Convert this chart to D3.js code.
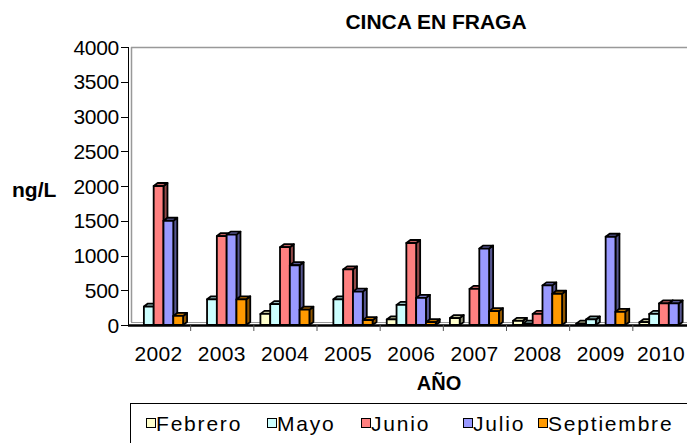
<!DOCTYPE html>
<html><head><meta charset="utf-8">
<script src="https://cdn.jsdelivr.net/npm/d3@7"></script>
<style>body{margin:0;background:#fff}svg{display:block}text{font-family:"Liberation Sans",Arial,sans-serif}</style>
</head><body>
<svg id="c" width="687" height="443"></svg>
<script>
const years = ["2002","2003","2004","2005","2006","2007","2008","2009","2010"];
const seriesNames = ["Febrero","Mayo","Junio","Julio","Septiembre"];
const febrero    = [0, 0, 160, 0, 80, 100, 60, 20, 40];
const mayo       = [265, 370, 300, 370, 290, 0, 20, 80, 160];
const junio      = [2000, 1280, 1120, 800, 1180, 520, 160, 0, 310];
const julio      = [1500, 1300, 860, 480, 390, 1100, 570, 1270, 310];
const septiembre = [130, 370, 220, 70, 40, 200, 450, 190, 0];
const yTicks = [0,500,1000,1500,2000,2500,3000,3500,4000];
const colors = ["#FFFFCC","#CCFFFF","#FF8080","#9999FF","#FF9900"];
const allSeries = [febrero, mayo, junio, julio, septiembre];

const svg = d3.select("#c");
const y = d3.scaleLinear().domain([0,4000]).range([325,47]);
const x0 = d3.scaleBand().domain(years).range([127,695.5]).padding(0);
const groupW = 49;
const x1 = d3.scaleBand().domain(seriesNames).range([0,groupW]).padding(0);
const off = (x0.bandwidth()-groupW)/2;
const dx = 4, dy = 3;

// walls
svg.append("line").attr("x1",131).attr("x2",687).attr("y1",47.5).attr("y2",47.5).attr("stroke","#999").attr("stroke-width",1.5);
svg.append("line").attr("x1",131.5).attr("x2",131.5).attr("y1",47).attr("y2",322).attr("stroke","#999").attr("stroke-width",1.5);
svg.append("line").attr("x1",128.5).attr("x2",128.5).attr("y1",47).attr("y2",326).attr("stroke","#000").attr("stroke-width",1);
svg.append("line").attr("x1",131).attr("x2",687).attr("y1",322.5).attr("y2",322.5).attr("stroke","#999").attr("stroke-width",1);

// y axis ticks & labels
const ya = svg.append("g");
yTicks.forEach(t=>{
  ya.append("line").attr("x1",121).attr("x2",129).attr("y1",Math.round(y(t))+0.5).attr("y2",Math.round(y(t))+0.5).attr("stroke","#000");
  ya.append("text").attr("x",119).attr("y",y(t)).attr("dy","0.36em").attr("text-anchor","end")
    .attr("font-size",21).attr("letter-spacing",-0.3).attr("fill","#000").text(t);
});

// baseline
svg.append("line").attr("x1",128).attr("x2",687).attr("y1",325.5).attr("y2",325.5).attr("stroke","#000").attr("stroke-width",2.5);
// x ticks
years.forEach((yr,i)=>{
  if(i>0) svg.append("line").attr("x1",x0(yr)+0.5).attr("x2",x0(yr)+0.5).attr("y1",325).attr("y2",331).attr("stroke","#555");
  svg.append("text").attr("x",x0(yr)+x0.bandwidth()/2 - (i===years.length-1?3:0)).attr("y",361).attr("text-anchor","middle")
    .attr("font-size",21).attr("letter-spacing",0.3).attr("fill","#000").text(yr);
});

// bars
const bars = svg.append("g");
years.forEach((yr,i)=>{
  seriesNames.forEach((s,j)=>{
    const v = allSeries[j][i];
    if(!v) return;
    const bx = x0(yr)+off+x1(s), w = x1.bandwidth(), by = y(v), y0 = y(0);
    const c = d3.color(colors[j]);
    const g = bars.append("g").attr("stroke","#000").attr("stroke-width",1.8).attr("stroke-linejoin","round");
    g.append("path").attr("d",`M${bx+w},${by}L${bx+w+dx},${by-dy}L${bx+w+dx},${y0-dy}L${bx+w},${y0}Z`).attr("fill",c.darker(1.6));
    g.append("path").attr("d",`M${bx},${by}L${bx+dx},${by-dy}L${bx+w+dx},${by-dy}L${bx+w},${by}Z`).attr("fill",c.darker(0.8));
    g.append("rect").attr("x",bx).attr("y",by).attr("width",w).attr("height",y0-by).attr("fill",colors[j]);
  });
});

// titles
svg.append("text").attr("x",436).attr("y",29).attr("text-anchor","middle").attr("font-size",21).attr("font-weight","bold").text("CINCA EN FRAGA");
svg.append("text").attr("x",12).attr("y",197).attr("font-size",21).attr("font-weight","bold").text("ng/L");
svg.append("text").attr("x",439).attr("y",390).attr("text-anchor","middle").attr("font-size",20).attr("font-weight","bold").text("AÑO");

// legend
svg.append("rect").attr("x",130.5).attr("y",403.5).attr("width",600).attr("height",60).attr("fill","none").attr("stroke","#000").attr("stroke-width",1);
const legX = [146, 267, 361, 463, 538];
seriesNames.forEach((s,j)=>{
  svg.append("rect").attr("x",legX[j]+0.5).attr("y",418.5).attr("width",9).attr("height",9).attr("fill",colors[j]).attr("stroke","#000");
  svg.append("text").attr("x",legX[j]+10).attr("y",430.5).attr("font-size",21).attr("letter-spacing",1.8).text(s);
});
</script>
</body></html>
